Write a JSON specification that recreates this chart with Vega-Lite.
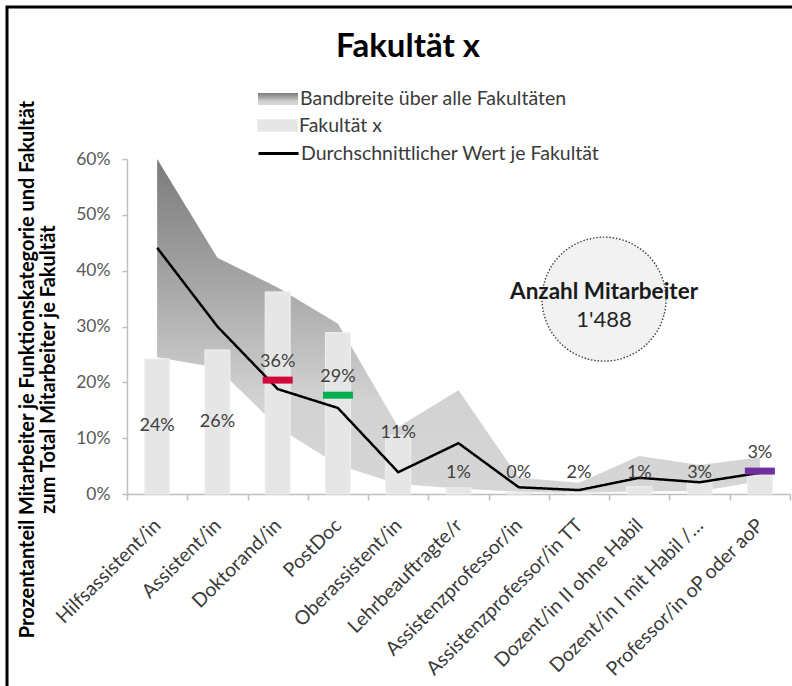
{
  "$schema": "https://vega.github.io/schema/vega-lite/v6.json",
  "width": 790,
  "height": 684,
  "padding": {"left": 7, "top": 7, "right": -5, "bottom": -5},
  "autosize": {"type": "none"},
  "background": "white",
  "config": {
    "view": {"stroke": "#000000", "strokeWidth": 3},
    "font": "Lato",
    "axis": {"grid": false}
  },
  "title": {
    "text": "Fakultät x",
    "font": "Lato",
    "fontSize": 33,
    "fontWeight": "bold",
    "color": "#000000",
    "anchor": "middle",
    "frame": "group",
    "offset": -50,
    "baseline": "alphabetic",
    "dx": 6,
    "dy": 33
  },
  "datasets": {
    "main": [
      {"cat": "Hilfsassistent/in", "fak": 24.2, "label": "24%", "low": 24.5, "high": 60, "mean": 44.1, "marker": null, "mgroup": null},
      {"cat": "Assistent/in", "fak": 25.8, "label": "26%", "low": 22.6, "high": 42.3, "mean": 30.0, "marker": null, "mgroup": null},
      {"cat": "Doktorand/in", "fak": 36.2, "label": "36%", "low": 12.0, "high": 37.0, "mean": 18.8, "marker": 20.4, "mgroup": "A"},
      {"cat": "PostDoc", "fak": 28.9, "label": "29%", "low": 5.2, "high": 30.5, "mean": 15.4, "marker": 17.7, "mgroup": "B"},
      {"cat": "Oberassistent/in", "fak": 10.5, "label": "11%", "low": 1.8, "high": 12.0, "mean": 3.9, "marker": null, "mgroup": null},
      {"cat": "Lehrbeauftragte/r", "fak": 1.1, "label": "1%", "low": 1.0, "high": 18.6, "mean": 9.1, "marker": null, "mgroup": null},
      {"cat": "Assistenzprofessor/in", "fak": 0.3, "label": "0%", "low": 0.4, "high": 2.9, "mean": 1.2, "marker": null, "mgroup": null},
      {"cat": "Assistenzprofessor/in TT", "fak": 0.3, "label": "2%", "low": 0.2, "high": 2.0, "mean": 0.7, "marker": null, "mgroup": null},
      {"cat": "Dozent/in II ohne Habil", "fak": 1.3, "label": "1%", "low": 0.5, "high": 6.8, "mean": 2.9, "marker": null, "mgroup": null},
      {"cat": "Dozent/in I mit Habil /…", "fak": 2.2, "label": "3%", "low": 0.5, "high": 5.2, "mean": 2.1, "marker": null, "mgroup": null},
      {"cat": "Professor/in oP oder aoP", "fak": 3.4, "label": "3%", "low": 2.3, "high": 6.6, "mean": 3.8, "marker": 4.1, "mgroup": "C"}
    ],
    "kpi": [{"title": "Anzahl Mitarbeiter", "count": "1'488"}]
  },
  "data": {"name": "main"},
  "layer": [
    {
      "mark": {
        "type": "area",
        "fill": {
          "gradient": "linear", "x1": 0, "y1": 0, "x2": 0, "y2": 1,
          "stops": [
            {"offset": 0, "color": "#7b7b7b"},
            {"offset": 0.35, "color": "#a3a3a3"},
            {"offset": 0.62, "color": "#c6c6c6"},
            {"offset": 0.72, "color": "#d2d2d2"},
            {"offset": 1, "color": "#d6d6d6"}
          ]
        }
      },
      "encoding": {
        "x": {
          "field": "cat", "type": "nominal", "sort": null,
          "scale": {
            "domain": ["Hilfsassistent/in", "Assistent/in", "Doktorand/in", "PostDoc", "Oberassistent/in", "Lehrbeauftragte/r", "Assistenzprofessor/in", "Assistenzprofessor/in TT", "Dozent/in II ohne Habil", "Dozent/in I mit Habil /…", "Professor/in oP oder aoP"],
            "range": [120, 783], "paddingInner": 0, "paddingOuter": 0
          },
          "axis": {
            "title": null, "orient": "bottom", "offset": -197,
            "domainColor": "#bfbfbf", "domainWidth": 1.5,
            "tickColor": "#bfbfbf", "tickSize": 6, "tickWidth": 1.5, "tickBand": "extent",
            "labelAngle": -45, "labelAlign": "right", "labelBaseline": "middle",
            "labelPadding": 22, "labelFontSize": 19.5, "labelFont": "Lato", "labelColor": "#3a3a3a",
            "labelLimit": 400, "labelOverlap": false
          }
        },
        "y": {
          "field": "high", "type": "quantitative",
          "scale": {"domain": [0, 60], "range": [487, 152], "nice": false, "zero": true},
          "axis": {
            "orient": "left", "offset": -120,
            "values": [0, 10, 20, 30, 40, 50, 60],
            "labelExpr": "datum.value + '%'",
            "domainColor": "#bfbfbf", "domainWidth": 1.5,
            "tickColor": "#bfbfbf", "tickSize": 5, "tickWidth": 1.5,
            "labelPadding": 12, "labelFontSize": 17.5, "labelFont": "Lato", "labelColor": "#595959",
            "title": ["Prozentanteil Mitarbeiter je Funktionskategorie und Fakultät", "zum Total Mitarbeiter je Fakultät"],
            "titleFont": "Lato", "titleFontSize": 20, "titleFontWeight": "bold", "titleColor": "#000000",
            "titleLineHeight": 21, "titleAngle": -90, "titleAlign": "center", "titleBaseline": "top",
            "titleX": -110, "titleY": 362
          }
        },
        "y2": {"field": "low"},
        "opacity": {
          "datum": "Bandbreite über alle Fakultäten", "type": "nominal",
          "scale": {"type": "ordinal", "domain": ["Bandbreite über alle Fakultäten"], "range": [1]},
          "legend": {
            "title": null, "orient": "none", "direction": "vertical",
            "legendX": 260, "legendY": 81, "padding": 0,
            "symbolSize": 400, "symbolType": "M-2,-0.6H2V0.6H-2Z", "symbolOpacity": 1,
            "labelOffset": 11, "labelFontSize": 19.5, "labelFont": "Lato", "labelColor": "#3a3a3a", "labelLimit": 400
          }
        }
      }
    },
    {
      "mark": {"type": "bar", "width": 25, "stroke": "#f0f0f0", "strokeWidth": 1},
      "encoding": {
        "x": {"field": "cat", "type": "nominal", "sort": null},
        "y": {"field": "fak", "type": "quantitative"},
        "color": {
          "datum": "Fakultät x",
          "scale": {"domain": ["Fakultät x"], "range": ["#e6e6e6"]},
          "legend": {
            "title": null, "orient": "none", "direction": "vertical",
            "legendX": 260, "legendY": 108, "padding": 0,
            "symbolSize": 400, "symbolType": "M-2,-0.6H2V0.6H-2Z", "symbolOpacity": 1,
            "symbolStrokeColor": "#ededed", "symbolStrokeWidth": 1,
            "labelOffset": 11, "labelFontSize": 19.5, "labelFont": "Lato", "labelColor": "#3a3a3a", "labelLimit": 400
          }
        }
      }
    },
    {
      "mark": {"type": "line", "color": "#000000", "strokeWidth": 2.5},
      "encoding": {
        "x": {"field": "cat", "type": "nominal", "sort": null},
        "y": {"field": "mean", "type": "quantitative"},
        "strokeDash": {
          "datum": "Durchschnittlicher Wert je Fakultät", "type": "nominal",
          "scale": {"domain": ["Durchschnittlicher Wert je Fakultät"], "range": [[1, 0]]},
          "legend": {
            "title": null, "orient": "none", "direction": "vertical",
            "legendX": 260, "legendY": 135, "padding": 0,
            "symbolSize": 400, "symbolType": "M-2,0H2", "symbolOpacity": 1,
            "symbolStrokeColor": "#000000", "symbolStrokeWidth": 3,
            "labelOffset": 11, "labelFontSize": 19.5, "labelFont": "Lato", "labelColor": "#3a3a3a", "labelLimit": 400
          }
        }
      }
    },
    {
      "transform": [{"filter": "datum.marker != null"}],
      "mark": {"type": "tick", "thickness": 7, "size": 30, "orient": "horizontal", "opacity": 1},
      "encoding": {
        "x": {"field": "cat", "type": "nominal", "sort": null},
        "y": {"field": "marker", "type": "quantitative"},
        "fill": {"field": "mgroup", "type": "nominal", "scale": {"domain": ["A", "B", "C"], "range": ["#d20a3c", "#00b050", "#7030a0"]}, "legend": null}
      }
    },
    {
      "transform": [{"calculate": "datum.marker != null ? datum.marker + 3.2 : (datum.fak > 20 ? datum.fak / 2 : max(datum.fak + 0.5, 3.7))", "as": "labelY"}],
      "mark": {"type": "text", "fontSize": 18, "font": "Lato", "color": "#404040", "baseline": "middle", "align": "center"},
      "encoding": {
        "x": {"field": "cat", "type": "nominal", "sort": null},
        "y": {"field": "labelY", "type": "quantitative"},
        "text": {"field": "label"}
      }
    },
    {
      "data": {"name": "kpi"},
      "mark": {"type": "point", "shape": "circle", "size": 15376, "filled": true, "fill": "#f2f2f2", "stroke": "#404040", "strokeWidth": 1.4, "strokeDash": [1.5, 1.8], "opacity": 1, "xOffset": 25},
      "encoding": {
        "x": {"datum": "Assistenzprofessor/in TT", "type": "nominal"},
        "y": {"datum": 34.9, "type": "quantitative"}
      }
    },
    {
      "data": {"name": "kpi"},
      "mark": {"type": "text", "fontSize": 22.5, "font": "Lato", "fontWeight": "bold", "color": "#1a1a1a", "baseline": "middle", "align": "center", "xOffset": 25},
      "encoding": {
        "x": {"datum": "Assistenzprofessor/in TT", "type": "nominal"},
        "y": {"datum": 36.2, "type": "quantitative"},
        "text": {"field": "title"}
      }
    },
    {
      "data": {"name": "kpi"},
      "mark": {"type": "text", "fontSize": 22, "font": "Lato", "color": "#262626", "baseline": "middle", "align": "center", "xOffset": 25},
      "encoding": {
        "x": {"datum": "Assistenzprofessor/in TT", "type": "nominal"},
        "y": {"datum": 31.2, "type": "quantitative"},
        "text": {"field": "count"}
      }
    }
  ]
}
